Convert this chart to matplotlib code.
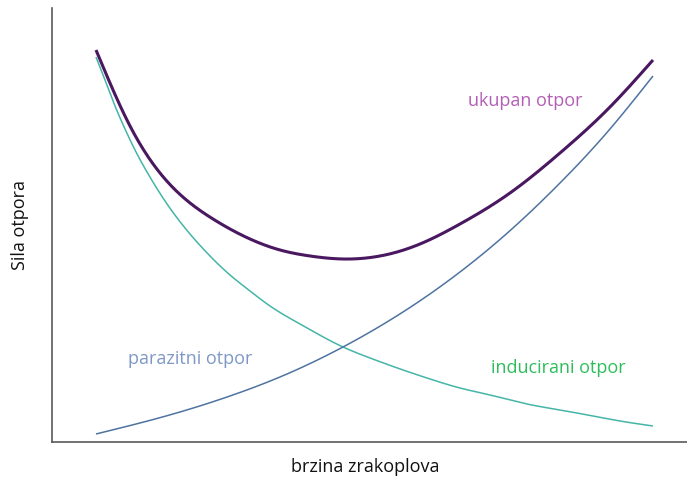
import numpy as np
import matplotlib
matplotlib.use("Agg")
import matplotlib.pyplot as plt

# Values (arbitrary units: speed, drag force)
induced_x = [44, 53, 61, 73, 83, 95, 113, 133, 158, 178, 198, 218, 248, 291, 318, 351, 378, 408, 438, 475, 508, 541, 568, 601]
induced_y = [385, 362, 341, 313, 292, 270, 241, 214, 186, 167, 151, 136, 118, 95, 84, 72, 63, 54, 47, 38, 32, 26, 21, 16]

parasitic_x = [44, 88, 128, 178, 228, 291, 351, 408, 461, 508, 558, 601]
parasitic_y = [8, 19, 30, 46, 65, 95, 130, 170, 214, 259, 313, 366]

total_x = [44, 78, 113, 161, 198, 228, 258, 291, 328, 368, 408, 458, 508, 558, 601]
total_y = [392, 316, 263, 223, 203, 192, 186, 183, 186, 198, 218, 249, 289, 335, 382]

labels = {"total": "ukupan otpor", "parasitic": "parazitni otpor", "induced": "inducirani otpor"}
xlabel = "brzina zrakoplova"
ylabel = "Sila otpora"


def smooth(xs, ys, n=600):
    # natural cubic spline through the read points (drawing only)
    x = np.asarray(xs, float)
    y = np.asarray(ys, float)
    m = len(x)
    h = np.diff(x)
    A = np.zeros((m, m))
    b = np.zeros(m)
    A[0, 0] = A[-1, -1] = 1
    for i in range(1, m - 1):
        A[i, i - 1] = h[i - 1]
        A[i, i] = 2 * (h[i - 1] + h[i])
        A[i, i + 1] = h[i]
        b[i] = 6 * ((y[i + 1] - y[i]) / h[i] - (y[i] - y[i - 1]) / h[i - 1])
    M = np.linalg.solve(A, b)
    xx = np.linspace(x[0], x[-1], n)
    idx = np.clip(np.searchsorted(x, xx) - 1, 0, m - 2)
    x0, x1 = x[idx], x[idx + 1]
    hh = x1 - x0
    t0, t1 = x1 - xx, xx - x0
    yy = (M[idx] * t0 ** 3 / (6 * hh) + M[idx + 1] * t1 ** 3 / (6 * hh)
          + (y[idx] / hh - M[idx] * hh / 6) * t0 + (y[idx + 1] / hh - M[idx + 1] * hh / 6) * t1)
    return xx, yy


plt.rcParams['font.family'] = ['Open Sans', 'DejaVu Sans']
fig = plt.figure(figsize=(6.87, 4.84), dpi=100)
ax = fig.add_axes([52 / 687, 1 - 442 / 484, 1 - 52 / 687, 434 / 484])
ax.set_xlim(0, 635)
ax.set_ylim(0, 434)

ax.plot(*smooth(induced_x, induced_y), color="#45B5A8", lw=1.1, solid_capstyle='butt')
ax.plot(*smooth(parasitic_x, parasitic_y), color="#4F73A1", lw=1.1, solid_capstyle='butt')
ax.plot(*smooth(total_x, total_y), color="#4A1860", lw=2.2, solid_capstyle='butt')

ax.text(473, 341, labels["total"], color="#B25EB5", fontsize=13, ha="center", va="center")
ax.text(138, 83, labels["parasitic"], color="#7E98C6", fontsize=13, ha="center", va="center")
ax.text(506, 74, labels["induced"], color="#2DBE5B", fontsize=13, ha="center", va="center")

ax.set_xticks([])
ax.set_yticks([])
for s in ["top", "right"]:
    ax.spines[s].set_visible(False)
for s in ["left", "bottom"]:
    ax.spines[s].set_color("#5A5A5A")
    ax.spines[s].set_linewidth(1.2)

fig.text(365 / 687, 1 - 467 / 484, xlabel, fontsize=13, ha="center", va="center", color="#111111")
fig.text(20 / 687, 1 - 225 / 484, ylabel, fontsize=13, ha="center", va="center", rotation=90, color="#111111")

fig.savefig("out.png", dpi=100)
